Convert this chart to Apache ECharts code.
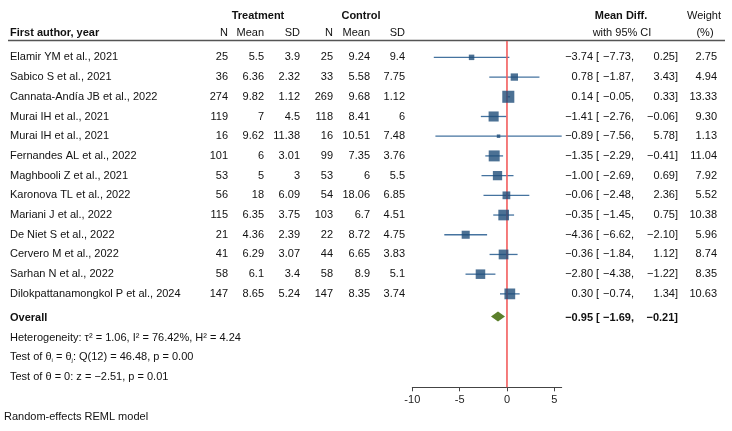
<!DOCTYPE html>
<html>
<head>
<meta charset="utf-8">
<script src="https://cdn.jsdelivr.net/npm/echarts@6/dist/echarts.min.js"></script>
<style>html,body{margin:0;padding:0;background:#fff;}#c{width:732px;height:431px;}</style>
</head>
<body>
<div id="c"></div>
<script>
const authors = ["Elamir YM et al., 2021","Sabico S et al., 2021","Cannata-Andía JB et al., 2022","Murai IH et al., 2021","Murai IH et al., 2021","Fernandes AL et al., 2022","Maghbooli Z et al., 2021","Karonova TL et al., 2022","Mariani J et al., 2022","De Niet S et al., 2022","Cervero M et al., 2022","Sarhan N et al., 2022","Dilokpattanamongkol P et al., 2024"];
const tN = [25,36,274,119,16,101,53,56,115,21,41,58,147];
const tMean = [5.5,6.36,9.82,7,9.62,6,5,18,6.35,4.36,6.29,6.1,8.65];
const tSD = [3.9,2.32,1.12,4.5,11.38,3.01,3,6.09,3.75,2.39,3.07,3.4,5.24];
const cN = [25,33,269,118,16,99,53,54,103,22,44,58,147];
const cMean = [9.24,5.58,9.68,8.41,10.51,7.35,6,18.06,6.7,8.72,6.65,8.9,8.35];
const cSD = [9.4,7.75,1.12,6,7.48,3.76,5.5,6.85,4.51,4.75,3.83,5.1,3.74];
const md = [-3.74,0.78,0.14,-1.41,-0.89,-1.35,-1.00,-0.06,-0.35,-4.36,-0.36,-2.80,0.30];
const lo = [-7.73,-1.87,-0.05,-2.76,-7.56,-2.29,-2.69,-2.48,-1.45,-6.62,-1.84,-4.38,-0.74];
const hi = [0.25,3.43,0.33,-0.06,5.78,-0.41,0.69,2.36,0.75,-2.10,1.12,-1.22,1.34];
const weight = [2.75,4.94,13.33,9.30,1.13,11.04,7.92,5.52,10.38,5.96,8.74,8.35,10.63];
const overallEst = [-0.95,-1.69,-0.21];
const nullValue = 0;
const xTicks = [-10,-5,0,5];
const hetText = "Heterogeneity: τ² = 1.06, I² = 76.42%, H² = 4.24";
const qText = "Test of θ{s|i} = θ{s|j}: Q(12) = 46.48, p = 0.00";
const zText = "Test of θ = 0: z = −2.51, p = 0.01";
const modelText = "Random-effects REML model";

const FONT = '"Liberation Sans", Arial, Helvetica, sans-serif';
const FS = 11;
const overallRow = 13.15;
const yMin = -0.83, yMax = 16.74;
const rows = authors.map((a,i)=>i);

const chart = echarts.init(document.getElementById('c'));
const fmt = v => (v < 0 ? '−' : '') + Math.abs(v).toFixed(2);

chart.setOption({
  animation:false,
  grid:{left:412.3,right:170.3,top:41,bottom:43.7,containLabel:false,show:false},
  xAxis:{type:'value',min:-10,max:5.78,interval:5,
    axisLine:{onZero:false,lineStyle:{color:'#444',width:1}},
    axisTick:{length:4,customValues:xTicks,lineStyle:{color:'#444'}},
    axisLabel:{customValues:xTicks,fontSize:FS,fontFamily:FONT,color:'#222',margin:7,formatter:v=>String(v)},
    splitLine:{show:false}},
  yAxis:{type:'value',inverse:true,min:yMin,max:yMax,show:false,
    axisLine:{show:false,onZero:false},axisTick:{show:false},axisLabel:{show:false},splitLine:{show:false}},
  series:[
    {type:'custom',name:'nullline',
      data:[[nullValue]],
      renderItem:(p,api)=>{
        const a=api.coord([api.value(0),yMin]);
        const b=api.coord([api.value(0),yMax]);
        return {type:'line',shape:{x1:a[0],y1:a[1],x2:b[0],y2:b[1]},style:{stroke:'#f25c5c',lineWidth:1.6}};
      },z:2.5},
    {type:'custom',name:'ci',
      data: rows.map(i=>[lo[i],hi[i],i]),
      renderItem:(p,api)=>{
        const a=api.coord([api.value(0),api.value(2)]);
        const b=api.coord([api.value(1),api.value(2)]);
        return {type:'line',shape:{x1:a[0],y1:a[1],x2:b[0],y2:b[1]},style:{stroke:'#45739f',lineWidth:1.3}};
      },
      z:2},
    {type:'scatter',symbol:'rect',
      data: rows.map(i=>[md[i],i,weight[i]]),
      symbolSize: d=>3.3*Math.sqrt(d[2]),
      itemStyle:{color:'#1f4e79'},z:3},
    {type:'custom',name:'overall',
      data:[[overallEst[0],overallEst[1],overallEst[2],overallRow]],
      renderItem:(p,api)=>{
        const y=api.value(3);
        const m=api.coord([api.value(0),y]), l=api.coord([api.value(1),y]), h=api.coord([api.value(2),y]);
        const hh=5;
        return {type:'polygon',shape:{points:[[l[0],l[1]],[m[0],m[1]-hh],[h[0],h[1]],[m[0],m[1]+hh]]},style:{fill:'#5b7f2b'}};
      },z:4}
  ]
});

const Y = r => chart.convertToPixel({gridIndex:0},[0,r])[1];
const g = [];
function txt(x,y,s,align,bold,extra){
  g.push(Object.assign({type:'text',x:x,y:y,silent:true,style:{text:s,x:0,y:0,fill:'#111',font:(bold?'bold ':'')+FS+'px '+FONT,align:align||'left',verticalAlign:'middle'}},extra||{}));
}
// headers
txt(258,15.5,'Treatment','center',true);
txt(361,15.5,'Control','center',true);
txt(621,15.5,'Mean Diff.','center',true);
txt(704,15.5,'Weight','center',false);
txt(10,32.5,'First author, year','left',true);
txt(228,32.5,'N','right');
txt(264,32.5,'Mean','right');
txt(300,32.5,'SD','right');
txt(333,32.5,'N','right');
txt(370,32.5,'Mean','right');
txt(405,32.5,'SD','right');
txt(622,32.5,'with 95% CI','center');
txt(705,32.5,'(%)','center');
g.push({type:'line',silent:true,shape:{x1:8,y1:40.5,x2:725,y2:40.5},style:{stroke:'#555',lineWidth:1.3}});

rows.forEach(i=>{
  const y=Y(i);
  txt(10,y,authors[i],'left');
  txt(228,y,String(tN[i]),'right');
  txt(264,y,String(tMean[i]),'right');
  txt(300,y,String(tSD[i]),'right');
  txt(333,y,String(cN[i]),'right');
  txt(370,y,String(cMean[i]),'right');
  txt(405,y,String(cSD[i]),'right');
  txt(593,y,fmt(md[i]),'right');
  txt(596,y,'[','left');
  txt(634,y,fmt(lo[i])+',','right');
  txt(678,y,fmt(hi[i])+']','right');
  txt(717,y,weight[i].toFixed(2),'right');
});
const yo=Y(overallRow)+1.5;
txt(10,yo,'Overall','left',true);
txt(593,yo,fmt(overallEst[0]),'right',true);
txt(596,yo,'[','left',true);
txt(634,yo,fmt(overallEst[1])+',','right',true);
txt(678,yo,fmt(overallEst[2])+']','right',true);

txt(10,337.5,hetText,'left');
g.push({type:'text',x:10,y:357,silent:true,style:{text:qText,x:0,y:0,fill:'#111',font:FS+'px '+FONT,align:'left',verticalAlign:'middle',
  rich:{s:{fontSize:6,fontFamily:FONT,fill:'#111',padding:[6,0,0,0]}}}});
txt(10,376.5,zText,'left');
txt(4,417,modelText,'left');

chart.setOption({graphic:{elements:g}});
</script>
</body>
</html>
